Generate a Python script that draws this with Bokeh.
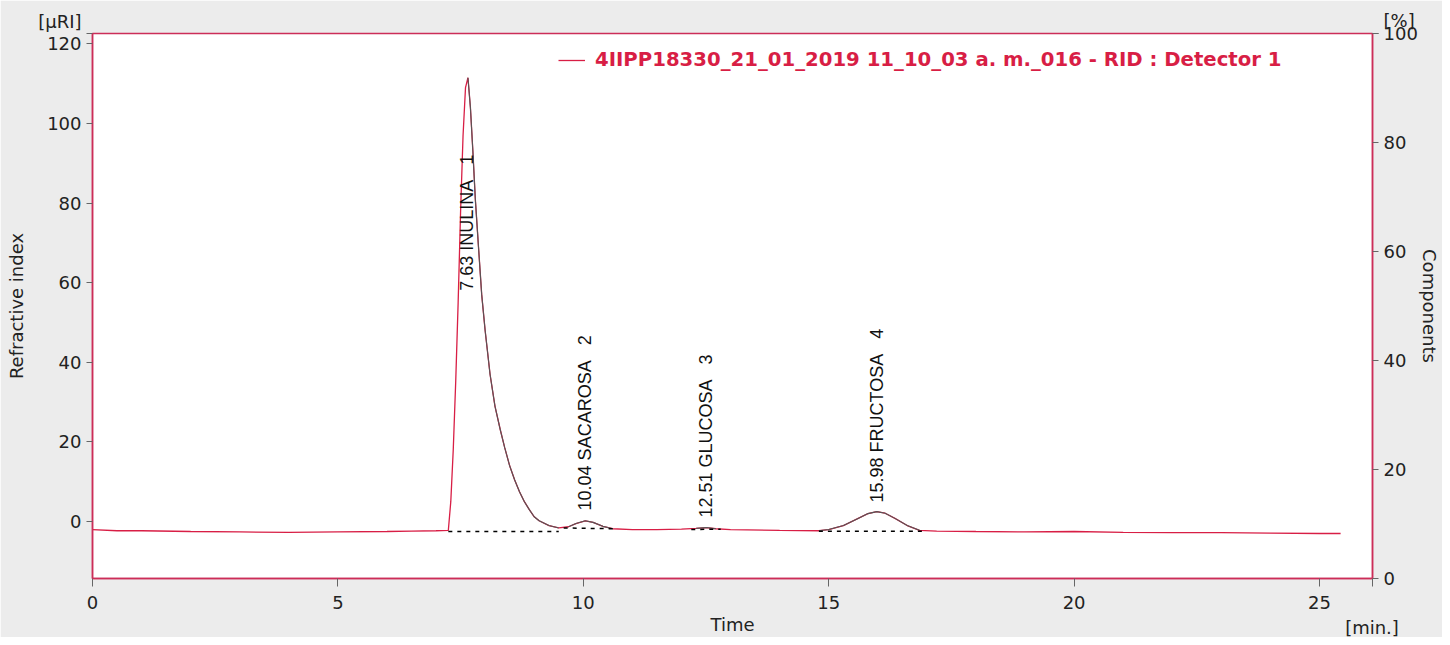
from bokeh.plotting import figure
from bokeh.models import Range1d, LinearAxis, Legend, LegendItem, FixedTicker
from bokeh.embed import file_html
from bokeh.resources import INLINE
from bokeh.core.properties import value

# ---- data ----
time_min = [0.0, 0.5, 1.0, 2.0, 3.0, 4.0, 5.0, 6.0, 6.5, 7.0, 7.25,
            7.30, 7.35, 7.40, 7.45, 7.50, 7.55, 7.60, 7.65, 7.70, 7.75,
            7.80, 7.87, 7.93, 8.00, 8.10, 8.20, 8.31, 8.40, 8.50, 8.60,
            8.70, 8.80, 8.90, 9.00, 9.10, 9.30, 9.50, 9.70, 9.85, 10.04,
            10.20, 10.40, 10.60, 11.0, 11.5, 12.0, 12.3, 12.51, 12.7, 13.0,
            14.0, 14.8, 15.0, 15.3, 15.6, 15.8, 15.98, 16.15, 16.35, 16.6,
            16.85, 17.2, 18.0, 19.0, 20.0, 21.0, 22.0, 23.0, 24.0, 25.0, 25.43]
signal_uri = [-2.0, -2.3, -2.3, -2.5, -2.6, -2.7, -2.6, -2.5, -2.4, -2.3, -2.2,
              5.0, 18.0, 35.0, 55.0, 78.0, 97.0, 109.0, 111.5, 104.0, 93.0,
              81.0, 68.0, 57.0, 48.0, 37.0, 29.0, 23.0, 18.5, 14.0, 10.5,
              7.5, 5.0, 3.0, 1.2, 0.2, -1.0, -1.6, -1.3, -0.5, 0.2,
              -0.2, -1.2, -1.8, -2.0, -2.0, -1.9, -1.7, -1.5, -1.8, -2.0,
              -2.2, -2.3, -2.0, -1.0, 0.8, 2.0, 2.5, 2.1, 0.8, -1.0,
              -2.2, -2.4, -2.5, -2.6, -2.5, -2.7, -2.8, -2.8, -2.9, -3.0, -3.0]

peak_rt = [7.63, 10.04, 12.51, 15.98]
peak_name = ["INULINA", "SACAROSA", "GLUCOSA", "FRUCTOSA"]
peak_no = [1, 2, 3, 4]
peak_start = [7.25, 9.60, 12.20, 14.80]
peak_end = [9.50, 10.60, 12.80, 16.90]
base_start = [-2.5, -1.6, -2.0, -2.4]
base_end = [-2.5, -1.8, -1.9, -2.4]

x_ticks = [0, 5, 10, 15, 20, 25]
y_ticks = [0, 20, 40, 60, 80, 100, 120]
pct_ticks = [0, 20, 40, 60, 80, 100]
y_unit = "[µRI]"
pct_unit = "[%]"
x_unit = "[min.]"

legend_text = "4IIPP18330_21_01_2019 11_10_03 a. m._016 - RID : Detector 1"

RED = "#d81e45"
FRAME = "#cc2d58"
TICKFONT = "DejaVu Sans"
PEAKFONT = "Liberation Sans"

X_END, Y_LO, Y_HI = 26.08, -14.3, 122.6

p = figure(width=1442, height=637, output_backend="svg", toolbar_location=None,
           x_range=Range1d(0, X_END), y_range=Range1d(Y_LO, Y_HI),
           min_border_left=92, min_border_right=70, min_border_top=33,
           min_border_bottom=59)
p.background_fill_color = "white"
p.border_fill_color = "#ececec"
p.outline_line_color = FRAME
p.outline_line_width = 1.5
p.xgrid.visible = False
p.ygrid.visible = False

p.extra_y_ranges = {"pct": Range1d(0, 100)}
right = LinearAxis(y_range_name="pct", axis_label="Components")
p.add_layout(right, "right")

xa, ya = p.xaxis[0], p.yaxis[0]
xa.axis_label = "Time"
ya.axis_label = "Refractive index"

# unit captions sit at the ends of the axes, as extra tick labels
x_unit_pos = X_END - 0.01
y_unit_pos = Y_HI - 0.1
pct_unit_pos = 99.999
xa.ticker = FixedTicker(ticks=x_ticks + [x_unit_pos])
xa.major_label_overrides = {x_unit_pos: "\n" + x_unit}
ya.ticker = FixedTicker(ticks=y_ticks + [y_unit_pos])
ya.major_label_overrides = {y_unit_pos: y_unit + "\n"}
right.ticker = FixedTicker(ticks=pct_ticks + [pct_unit_pos])
right.major_label_overrides = {pct_unit_pos: pct_unit + "\n"}

for ax in [xa, ya, right]:
    ax.axis_line_color = FRAME
    ax.axis_line_width = 1.5
    ax.major_tick_line_color = "#666666"
    ax.major_tick_out = 6
    ax.major_tick_in = 0
    ax.minor_tick_line_color = None
    ax.major_label_text_font = TICKFONT
    ax.major_label_text_font_size = "18px"
    ax.major_label_text_color = "#222222"
    ax.major_label_standoff = 5
    ax.axis_label_text_font = TICKFONT
    ax.axis_label_text_font_size = "18px"
    ax.axis_label_text_font_style = "normal"
    ax.axis_label_text_color = "#222222"
xa.major_tick_out = 8
xa.axis_label_standoff = -27
ya.axis_label_standoff = 8
right.axis_label_standoff = -2

# chromatogram trace
trace = p.line(time_min, signal_uri, line_color=RED, line_width=1.3)

# integrated peak regions (dark overlay, from the apex on for the main peak)
for i, (s, e) in enumerate(zip(peak_start, peak_end)):
    lo = peak_rt[i] if i == 0 else s
    xs = [t for t in time_min if lo <= t <= e]
    ys = [v for t, v in zip(time_min, signal_uri) if lo <= t <= e]
    p.line(xs, ys, line_color="#555555", line_width=1.1)

# baselines
p.segment(x0=peak_start, y0=base_start, x1=peak_end, y1=base_end,
          line_color="black", line_width=1.5, line_dash="4 5")

# peak labels
label_base = [58.0, 2.8, 1.0, 4.8]
labels = [f"{rt:.2f} {n}\u00a0\u00a0\u00a0{k}" for rt, n, k in zip(peak_rt, peak_name, peak_no)]
p.text(x=peak_rt, y=label_base, text=labels, angle=1.5708,
       text_align="left", text_baseline="middle",
       text_font=value(PEAKFONT), text_font_size="18px", text_color="#111111")

legend = Legend(items=[LegendItem(label=legend_text, renderers=[trace])],
                location=(466, 507), orientation="vertical",
                background_fill_alpha=0, border_line_alpha=0,
                padding=0, margin=0, glyph_width=27, label_standoff=10,
                label_text_font=TICKFONT, label_text_font_size="19.7px",
                label_text_font_style="bold", label_text_color=RED)
p.add_layout(legend, "center")

open("out.html", "w").write(file_html(p, INLINE))
